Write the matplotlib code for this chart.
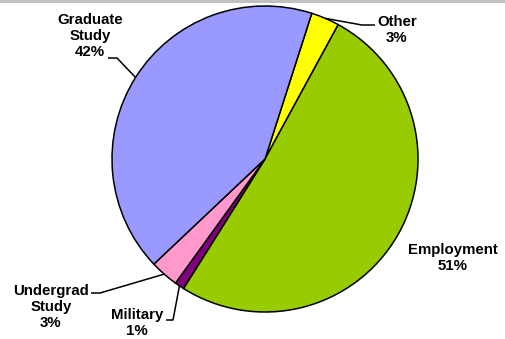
import numpy as np
import matplotlib.pyplot as plt
from matplotlib.patches import Rectangle

# slice data, clockwise from the top
labels = ["Other", "Employment", "Military", "Undergrad\nStudy", "Graduate\nStudy"]
pcts = [3, 51, 1, 3, 42]
colors = ["#FFFF00", "#99CC00", "#800080", "#FF99CC", "#9999FF"]

W, H = 505, 339
fig = plt.figure(figsize=(W / 100, H / 100), dpi=100)
ax = fig.add_axes([0, 0, 1, 1])

cx, cy, r = 265, 180, 153
wedges, _ = ax.pie(pcts, colors=colors, startangle=72.2, counterclock=False,
                   center=(cx, cy), radius=r,
                   wedgeprops=dict(edgecolor="black", linewidth=1.1))

ax.set_xlim(0, W)
ax.set_ylim(0, H)
ax.set_aspect("equal")
ax.axis("off")

# grey strip along the top edge
ax.add_patch(Rectangle((0, H - 3), W, 3, color="#C0C0C0", lw=0, clip_on=False))

def edge(w, k=1.0):
    a = np.deg2rad((w.theta1 + w.theta2) / 2)
    return cx + r * k * np.cos(a), cy + r * k * np.sin(a)

font = dict(family=["Liberation Sans", "DejaVu Sans"], fontsize=10.8,
            fontweight="bold", ha="center", va="center", linespacing=1.15)

# text position and leader path (text side first, then the elbow)
layout = {
    0: ((397, 309), [(375, 314), (362, 314)]),
    1: ((453, 81), None),
    2: ((137, 16), [(166, 19), (173, 19)]),
    3: ((51, 32), [(91, 46), (100, 46)]),
    4: ((90, 303), [(108, 281), (117, 281)]),
}

for i, w in enumerate(wedges):
    (tx, ty), path = layout[i]
    ax.text(tx, ty, f"{labels[i]}\n{pcts[i]}%", **font)
    if path:
        ex, ey = edge(w, 1.0)
        xs = [p[0] for p in path] + [ex]
        ys = [p[1] for p in path] + [ey]
        ax.plot(xs, ys, color="black", lw=1.1, solid_capstyle="butt")

fig.savefig("out.png", dpi=100)
